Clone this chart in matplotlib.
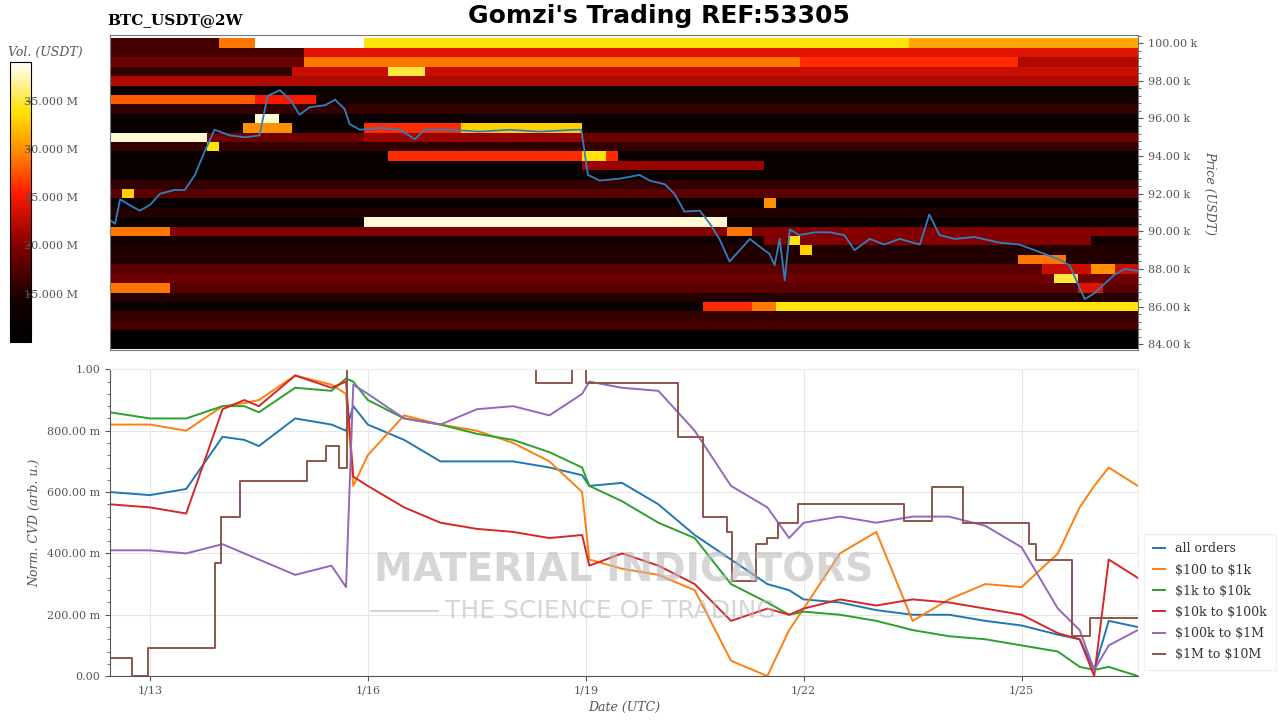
import numpy as np
import matplotlib
matplotlib.use("Agg")
import matplotlib.pyplot as plt
from matplotlib.ticker import MultipleLocator
from matplotlib.colors import LinearSegmentedColormap

plt.rcParams['font.family'] = ['DejaVu Serif']

# ---------------- data ----------------
# time in days since 2025-01-13 00:00 UTC
t_start, t_end = -0.55, 13.6
price_levels = [84.0 + 0.5 * i for i in range(33)]   # k USDT
row_base = [8, 9, 17, 16, 12, 15, 18, 19, 18, 15, 15, 14, 20, 12, 15, 12, 18,
            16, 12, 12, 12, 16, 19, 12, 12, 16, 14, 12, 22, 19, 19, 20, 17]  # M USDT
# (price level, t0, t1, volume M)
walls = [
    (100.0, 1.0, 1.4, 29), (100.0, 1.4, 2.9, 39), (100.0, 2.9, 10.5, 34), (100.0, 10.5, 13.6, 31),
    (99.5, 2.1, 13.6, 24), (99.5, -0.55, 2.1, 17),
    (99.0, 2.1, 9.0, 29), (99.0, 9.0, 12.0, 26), (99.0, 12.0, 13.6, 22),
    (98.5, 2.0, 13.6, 23), (98.5, 3.2, 3.7, 35), (98.5, -0.55, 2.0, 16),
    (98.0, 1.5, 13.6, 22),
    (97.0, -0.55, 1.5, 28), (97.0, 1.5, 2.2, 25),
    (96.0, 1.5, 1.7, 38), (95.5, 1.3, 2.0, 30), (95.5, 2.9, 4.3, 26), (95.5, 4.3, 5.9, 33),
    (95.0, -0.55, 0.8, 38), (95.0, 3.0, 5.9, 21),
    (94.5, 0.7, 0.9, 34),
    (94.0, 3.2, 6.5, 26), (94.0, 6.0, 6.2, 34),
    (93.5, 6.0, 8.5, 21),
    (92.0, -0.4, -0.2, 33),
    (91.5, 8.4, 8.6, 30),
    (90.5, 2.9, 8.0, 38),
    (90.0, -0.55, 0.3, 29), (90.0, 7.3, 13.6, 20), (90.0, 8.0, 8.3, 29),
    (89.5, 8.5, 13.0, 20), (89.5, 8.7, 8.9, 34), (89.0, 8.9, 9.1, 33),
    (88.5, 12.0, 12.6, 29), (88.0, 12.2, 13.6, 23), (88.0, 13.0, 13.3, 30),
    (87.5, 12.5, 12.8, 35),
    (87.0, -0.55, 0.3, 29), (87.0, 12.8, 13.1, 24),
    (86.0, 7.6, 8.2, 26), (86.0, 8.2, 8.6, 29), (86.0, 8.6, 13.6, 34),
]

price_t = [-0.55, -0.48, -0.41, -0.28, -0.14, 0, 0.14, 0.34, 0.48, 0.62, 0.76, 0.89, 1.10, 1.31, 1.51,
           1.62, 1.79, 1.93, 2.06, 2.20, 2.41, 2.55, 2.68, 2.75, 2.89, 3.17, 3.44, 3.65, 3.78, 4.13,
           4.54, 4.95, 5.37, 5.85, 5.94, 6.03, 6.19, 6.47, 6.74, 6.88, 7.09, 7.22, 7.36, 7.57, 7.71,
           7.84, 7.98, 8.12, 8.26, 8.39, 8.53, 8.60, 8.67, 8.74, 8.81, 8.94, 9.15, 9.36, 9.56, 9.70,
           9.91, 10.11, 10.32, 10.60, 10.73, 10.87, 11.08, 11.35, 11.70, 11.97, 12.25, 12.52, 12.66,
           12.73, 12.87, 13.00, 13.14, 13.28, 13.42, 13.60]
price_v = [90.6, 90.4, 91.7, 91.4, 91.1, 91.4, 92.0, 92.2, 92.2, 93.0, 94.3, 95.4, 95.1, 95.0, 95.1,
           97.2, 97.5, 97.0, 96.2, 96.6, 96.7, 97.0, 96.5, 95.7, 95.4, 95.5, 95.4, 94.9, 95.4, 95.4,
           95.3, 95.4, 95.3, 95.4, 95.4, 93.0, 92.7, 92.8, 93.0, 92.7, 92.5, 92.0, 91.05, 91.1, 90.4,
           89.6, 88.4, 89.0, 89.6, 89.2, 88.8, 88.2, 89.6, 87.4, 90.1, 89.8, 89.95, 89.95, 89.8, 89.0,
           89.6, 89.3, 89.6, 89.3, 90.9, 89.8, 89.6, 89.7, 89.4, 89.3, 88.9, 88.5, 88.2, 87.6, 86.4,
           86.7, 87.2, 87.7, 88.0, 87.9]

cvd_t = [-0.55, 0, 0.5, 1.0, 1.3, 1.5, 2.0, 2.5, 2.7, 2.8, 3.0, 3.5, 4.0, 4.5, 5.0, 5.5, 5.95,
         6.05, 6.5, 7.0, 7.5, 8.0, 8.5, 8.8, 9.0, 9.5, 10.0, 10.5, 11.0, 11.5, 12.0, 12.5, 12.8,
         13.0, 13.2, 13.6]
cvd_all = [0.60, 0.59, 0.61, 0.78, 0.77, 0.75, 0.84, 0.82, 0.80, 0.88, 0.82, 0.77, 0.70, 0.70, 0.70,
           0.68, 0.655, 0.62, 0.63, 0.56, 0.46, 0.38, 0.30, 0.28, 0.25, 0.24, 0.215, 0.20, 0.20,
           0.18, 0.165, 0.135, 0.12, 0.02, 0.18, 0.16]
cvd_100_1k = [0.82, 0.82, 0.80, 0.88, 0.89, 0.90, 0.98, 0.95, 0.92, 0.62, 0.72, 0.85, 0.82, 0.80,
              0.76, 0.70, 0.60, 0.38, 0.35, 0.33, 0.28, 0.05, 0.0, 0.15, 0.22, 0.40, 0.47, 0.18,
              0.25, 0.30, 0.29, 0.40, 0.55, 0.62, 0.68, 0.62]
cvd_1k_10k = [0.86, 0.84, 0.84, 0.88, 0.88, 0.86, 0.94, 0.93, 0.97, 0.96, 0.90, 0.84, 0.82, 0.79,
              0.77, 0.73, 0.68, 0.62, 0.57, 0.50, 0.45, 0.30, 0.24, 0.20, 0.21, 0.20, 0.18, 0.15,
              0.13, 0.12, 0.10, 0.08, 0.03, 0.02, 0.03, 0.0]
cvd_10k_100k = [0.56, 0.55, 0.53, 0.87, 0.90, 0.88, 0.98, 0.94, 0.96, 0.65, 0.62, 0.55, 0.50, 0.48,
                0.47, 0.45, 0.46, 0.36, 0.40, 0.36, 0.30, 0.18, 0.22, 0.20, 0.22, 0.25, 0.23, 0.25,
                0.24, 0.22, 0.20, 0.14, 0.12, 0.0, 0.38, 0.32]
cvd_100k_1m = [0.41, 0.41, 0.40, 0.43, 0.40, 0.38, 0.33, 0.36, 0.29, 0.95, 0.92, 0.84, 0.82, 0.87,
               0.88, 0.85, 0.92, 0.96, 0.94, 0.93, 0.80, 0.62, 0.55, 0.45, 0.50, 0.52, 0.50, 0.52,
               0.52, 0.49, 0.42, 0.22, 0.15, 0.02, 0.10, 0.15]
step_t = [-0.55, -0.25, -0.03, 0.89, 0.98, 1.24, 2.16, 2.42, 2.61, 2.72, 5.31, 5.81, 6.0, 7.27,
          7.61, 7.95, 8.01, 8.35, 8.49, 8.64, 8.92, 10.38, 10.77, 11.2, 12.1, 12.2, 12.7, 12.94, 13.6]
cvd_1m_10m = [0.06, 0.0, 0.09, 0.37, 0.52, 0.635, 0.70, 0.75, 0.68, 1.0, 0.955, 1.0, 0.955, 0.78,
              0.52, 0.47, 0.31, 0.43, 0.45, 0.50, 0.56, 0.505, 0.615, 0.50, 0.43, 0.38, 0.13, 0.19, 0.19]

series = [("all orders", cvd_all, "#1f77b4"), (r"\$100 to \$1k", cvd_100_1k, "#ff7f0e"),
          (r"\$1k to \$10k", cvd_1k_10k, "#2ca02c"), (r"\$10k to \$100k", cvd_10k_100k, "#d62728"),
          (r"\$100k to \$1M", cvd_100k_1m, "#9467bd")]

date_ticks = [0, 3, 6, 9, 12]
date_labels = ["1/13", "1/16", "1/19", "1/22", "1/25"]
vol_ticks = [15, 20, 25, 30, 35]
price_ticks = [84, 86, 88, 90, 92, 94, 96, 98, 100]
cvd_ticks = [0, 0.2, 0.4, 0.6, 0.8, 1.0]
cvd_labels = ["0.00", "200.00 m", "400.00 m", "600.00 m", "800.00 m", "1.00"]

# ---------------- build heatmap ----------------
t_edges = np.arange(t_start, t_end + 1e-9, 1 / 6)
if t_edges[-1] < t_end:
    t_edges = np.append(t_edges, t_end)
t_cent = 0.5 * (t_edges[:-1] + t_edges[1:])
p_edges = np.array(price_levels + [price_levels[-1] + 0.5]) - 0.25
Z = np.repeat(np.array(row_base, float)[:, None], len(t_cent), axis=1)
for p, a, b, v in walls:
    i = price_levels.index(p)
    m = (t_cent >= a) & (t_cent < b)
    Z[i, m] = v

cmap = LinearSegmentedColormap.from_list("vol", [
    (0.0, "#000000"), (0.15, "#150000"), (0.35, "#860000"), (0.53, "#ff1a00"),
    (0.68, "#ff8a00"), (0.82, "#ffe000"), (1.0, "#ffffff")])

gray = "#555555"
fig = plt.figure(figsize=(12.8, 7.2), dpi=100)
ax1 = fig.add_axes([0.0859, 0.514, 0.803, 0.437])
mesh = ax1.pcolormesh(t_edges, p_edges, Z, cmap=cmap, vmin=10, vmax=39, shading="flat")
ax1.plot(price_t, price_v, color="#2f7fc1", lw=1.3)
ax1.set_xlim(t_start, t_end)
ax1.set_ylim(83.7, 100.42)
ax1.yaxis.tick_right()
ax1.yaxis.set_label_position("right")
ax1.set_yticks(price_ticks)
ax1.set_yticklabels([f"{v:.2f} k" for v in price_ticks], fontsize=8, color=gray)
ax1.yaxis.set_minor_locator(MultipleLocator(0.4))
ax1.tick_params(axis="y", which="both", colors=gray, labelcolor=gray)
ax1.set_xticks([])
ax1.set_ylabel("Price (USDT)", rotation=270, labelpad=14, style="italic", fontsize=9, color=gray)
for s in ax1.spines.values():
    s.set_color("#777777")

cax = fig.add_axes([0.0078, 0.525, 0.0164, 0.389])
cb = fig.colorbar(mesh, cax=cax)
cb.set_ticks(vol_ticks)
cb.set_ticklabels([f"{v:.3f} M" for v in vol_ticks])
cax.tick_params(labelsize=8, labelcolor=gray, color=gray, direction="in", pad=-5)
for lab in cax.get_yticklabels():
    lab.set_horizontalalignment("left")
cax.set_title("Vol. (USDT)", fontsize=9, style="italic", color=gray, pad=4, loc="left", x=-0.1)

fig.text(0.084, 0.972, "BTC_USDT@2W", fontsize=11, fontweight="bold", ha="left", va="center")
fig.text(0.515, 0.978, "Gomzi's Trading REF:53305", fontsize=18, fontweight="bold",
         family="DejaVu Sans", ha="center", va="center")

ax2 = fig.add_axes([0.0859, 0.061, 0.803, 0.426])
for name, vals, c in series:
    ax2.plot(cvd_t, vals, color=c, lw=1.4, label=name)
ax2.plot(step_t, cvd_1m_10m, color="#8c564b", lw=1.4, drawstyle="steps-post", label=r"\$1M to \$10M")
ax2.set_xlim(t_start, t_end)
ax2.set_ylim(0, 1.0)
ax2.set_xticks(date_ticks)
ax2.set_xticklabels(date_labels, fontsize=8, color=gray)
ax2.set_yticks(cvd_ticks)
ax2.set_yticklabels(cvd_labels, fontsize=8, color=gray)
ax2.yaxis.set_minor_locator(MultipleLocator(0.04))
ax2.grid(True, color="#e6e6e6", lw=0.8)
ax2.set_axisbelow(True)
ax2.tick_params(axis="both", which="both", colors=gray)
ax2.set_ylabel("Norm. CVD (arb. u.)", style="italic", fontsize=9, color=gray)
ax2.set_xlabel("Date (UTC)", style="italic", fontsize=9, color=gray)
for k in ["top", "right"]:
    ax2.spines[k].set_color("#eeeeee")
for k in ["left", "bottom"]:
    ax2.spines[k].set_color("#555555")
leg = ax2.legend(loc="lower left", bbox_to_anchor=(1.0, 0.0), fontsize=9, frameon=True,
                 handlelength=1.0, borderpad=0.7, labelspacing=0.65, fancybox=False)
leg.get_frame().set_edgecolor("#eeeeee")
for txt in leg.get_texts():
    txt.set_color("#333333")

fig.text(0.487, 0.207, "MATERIAL INDICATORS", fontsize=28, fontweight="bold", color="#bbbbbb",
         alpha=0.6, ha="center", va="center", family="DejaVu Sans")
fig.text(0.348, 0.152, "THE SCIENCE OF TRADING", fontsize=18, color="#bbbbbb", alpha=0.6,
         ha="left", va="center", family="DejaVu Sans")
fig.add_artist(plt.Line2D([0.29, 0.342], [0.152, 0.152], color="#bbbbbb", alpha=0.6, lw=1.5))

fig.savefig("out.png", dpi=100)
